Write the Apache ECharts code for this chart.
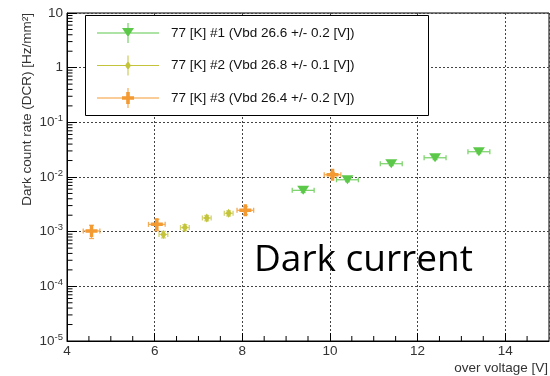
<!DOCTYPE html>
<html><head><meta charset="utf-8">
<script src="https://cdn.jsdelivr.net/npm/echarts@6/dist/echarts.min.js"></script>
<style>html,body{margin:0;padding:0;background:#fff}#c{width:550px;height:376px}</style>
</head><body><div id="c"></div>
<script>
// ---- data ----
const seriesNames = ['77 [K] #1 (Vbd 26.6 +/- 0.2 [V])', '77 [K] #2 (Vbd 26.8 +/- 0.1 [V])', '77 [K] #3 (Vbd 26.4 +/- 0.2 [V])'];
const s1X = [9.39, 10.40, 11.40, 12.40, 13.40];
const s1Y = [5.7e-3, 8.9e-3, 1.75e-2, 2.25e-2, 2.9e-2];
const s1XErr = [0.25, 0.25, 0.25, 0.25, 0.25];
const s1YErr = [0.5e-3, 0.7e-3, 1.3e-3, 1.7e-3, 2.2e-3];
const s2X = [6.20, 6.69, 7.19, 7.69];
const s2Y = [8.9e-4, 1.19e-3, 1.78e-3, 2.17e-3];
const s2XErr = [0.1, 0.1, 0.1, 0.1];
const s2YErr = [1.2e-4, 1.5e-4, 2.0e-4, 2.3e-4];
const s3X = [4.56, 6.05, 8.07, 10.06];
const s3Y = [1.03e-3, 1.36e-3, 2.46e-3, 1.10e-2];
const s3XErr = [0.19, 0.19, 0.19, 0.19];
const s3YErr = [2.8e-4, 3.2e-4, 4.0e-4, 1.1e-3];
const xTickValues = [4, 6, 8, 10, 12, 14];
const xMinorTicks = [4.5, 5, 5.5, 6.5, 7, 7.5, 8.5, 9, 9.5, 10.5, 11, 11.5, 12.5, 13, 13.5, 14.5];
const yTickLabels = ['10{s|-5}', '10{s|-4}', '10{s|-3}', '10{s|-2}', '10{s|-1}', '1', '10'];
const xMin = 4, xMax = 15, yMin = 1e-5, yMax = 10;
const yMinorTicks = [];
for (let e = -5; e < 1; e++) for (let m = 2; m <= 9; m++) yMinorTicks.push(m * Math.pow(10, e));

const colors = ['#5cc84a', '#c4c43a', '#f39a32'];
const errColors = ['#7fd46f', '#d2d36e', '#f4ab55'];
const symbols = ['path://M0,0L12,0L6,9Z', 'diamond', 'path://M4.25,0H7.75V4.25H12V7.75H7.75V12H4.25V7.75H0V4.25H4.25Z'];
const symbolSizes = [[12, 9], [6, 9], [12, 12]];
const legendIcons = [
  'path://M0,9.5H62V10.5H0Z M30.5,0H31.5V20H30.5Z M25,5H37L31,14Z',
  'path://M0,9.5H62V10.5H0Z M30.5,0H31.5V20H30.5Z M31,5.5L34,10L31,14.5L28,10Z',
  'path://M0,9.5H62V10.5H0Z M30.5,0H31.5V20H30.5Z M29.2,4H32.8V8.2H37V11.8H32.8V16H29.2V11.8H25V8.2H29.2Z'
];
const allX = [s1X, s2X, s3X], allY = [s1Y, s2Y, s3Y], allXE = [s1XErr, s2XErr, s3XErr], allYE = [s1YErr, s2YErr, s3YErr];

const FONT = 'Liberation Sans';

function errRender(color) {
  return function (params, api) {
    const x = api.value(0), y = api.value(1), ex = api.value(2), ey = api.value(3);
    const l = api.coord([x - ex, y]), r = api.coord([x + ex, y]);
    const t = api.coord([x, y + ey]), b = api.coord([x, y - ey]);
    const cap = 2.5;
    const st = { stroke: color, lineWidth: 1.3 };
    const ln = (x1, y1, x2, y2) => ({ type: 'line', shape: { x1, y1, x2, y2 }, style: st });
    return { type: 'group', children: [
      ln(l[0], l[1], r[0], r[1]),
      ln(l[0], l[1] - cap, l[0], l[1] + cap),
      ln(r[0], r[1] - cap, r[0], r[1] + cap),
      ln(t[0], t[1], b[0], b[1]),
      ln(t[0] - cap, t[1], t[0] + cap, t[1]),
      ln(b[0] - cap, b[1], b[0] + cap, b[1])
    ]};
  };
}

const series = [];
for (let i = 0; i < 3; i++) {
  series.push({
    type: 'custom', name: 'err' + i, silent: true, z: 3,
    renderItem: errRender(errColors[i]),
    encode: { x: 0, y: 1 },
    data: allX[i].map((x, k) => [x, allY[i][k], allXE[i][k], allYE[i][k]])
  });
}
for (let i = 0; i < 3; i++) {
  series.push({
    type: 'scatter', name: seriesNames[i], z: 4,
    symbol: symbols[i], symbolSize: symbolSizes[i],
    itemStyle: { color: colors[i], opacity: 1 },
    data: allX[i].map((x, k) => [x, allY[i][k]])
  });
}
// minor ticks (ROOT-style log ticks)
series.push({
  type: 'custom', silent: true, clip: false, z: 5,
  renderItem: function (params, api) {
    const p = api.coord([api.value(0), api.value(1)]);
    return { type: 'line', shape: { x1: p[0], y1: p[1], x2: p[0] + 5.5, y2: p[1] }, style: { stroke: '#000', lineWidth: 1 } };
  },
  encode: { x: 0, y: 1 },
  data: yMinorTicks.map(v => [xMin, v])
});
series.push({
  type: 'custom', silent: true, clip: false, z: 5,
  renderItem: function (params, api) {
    const p = api.coord([api.value(0), api.value(1)]);
    return { type: 'line', shape: { x1: p[0], y1: p[1], x2: p[0], y2: p[1] - 5 }, style: { stroke: '#000', lineWidth: 1 } };
  },
  encode: { x: 0, y: 1 },
  data: xMinorTicks.map(v => [v, yMin])
});

const chart = echarts.init(document.getElementById('c'), null, { renderer: 'canvas' });
chart.setOption({
  animation: false,
  backgroundColor: '#fff',
  grid: { left: 67, right: 1, top: 13, bottom: 35, show: true, borderColor: '#000', borderWidth: 1, backgroundColor: 'transparent' },
  xAxis: {
    type: 'value', min: xMin, max: xMax, interval: 2,
    axisLine: { show: true, lineStyle: { color: '#000', width: 1 } },
    axisTick: { show: true, inside: true, length: 8, lineStyle: { color: '#000' } },
    axisLabel: { fontFamily: FONT, fontSize: 13.5, color: '#333', margin: 3, showMaxLabel: false,
      formatter: v => (xTickValues.indexOf(v) >= 0 ? String(v) : '') },
    splitLine: { show: true, lineStyle: { color: '#444', type: [2, 2], width: 1 } }
  },
  yAxis: {
    type: 'log', logBase: 10, min: yMin, max: yMax,
    axisLine: { show: true, lineStyle: { color: '#000', width: 1 } },
    axisTick: { show: true, inside: true, length: 10, lineStyle: { color: '#000' } },
    axisLabel: {
      fontFamily: FONT, fontSize: 13.5, color: '#333', margin: 4,
      formatter: v => yTickLabels[Math.round(Math.log10(v)) + 5] || '',
      rich: { s: { fontFamily: FONT, fontSize: 9.5, color: '#333', padding: [0, 0, 8, 0] } }
    },
    splitLine: { show: true, lineStyle: { color: '#444', type: [2, 2], width: 1 } }
  },
  legend: {
    orient: 'vertical', left: 97, top: 23, padding: 0, itemWidth: 62, itemHeight: 20, itemGap: 12.5, z: 10,
    selectedMode: false,
    textStyle: { fontFamily: FONT, fontSize: 13.5, color: '#111', padding: [0, 0, 0, 7] },
    data: seriesNames.map((n, i) => ({ name: n, icon: legendIcons[i], itemStyle: { color: colors[i] } }))
  },
  graphic: [
    { type: 'rect', z: 8, shape: { x: 85.5, y: 15.5, width: 343, height: 100 }, style: { fill: '#fff', stroke: '#000', lineWidth: 1 } },
    { type: 'text', z: 9, x: 27, y: 13, rotation: Math.PI / 2,
      style: { text: 'Dark count rate (DCR) [Hz/mm²]', font: '13.5px "Liberation Sans"', fill: '#333', textAlign: 'right', textVerticalAlign: 'middle' } },
    { type: 'text', z: 9, x: 548, y: 368,
      style: { text: 'over voltage [V]', font: '13.5px "Liberation Sans"', fill: '#333', textAlign: 'right', textVerticalAlign: 'middle' } },
    { type: 'text', z: 9, x: 254, y: 260,
      style: { text: 'Dark current', font: '37px "Open Sans"', fill: '#000', textAlign: 'left', textVerticalAlign: 'middle' } }
  ],
  series: series
});
</script></body></html>
